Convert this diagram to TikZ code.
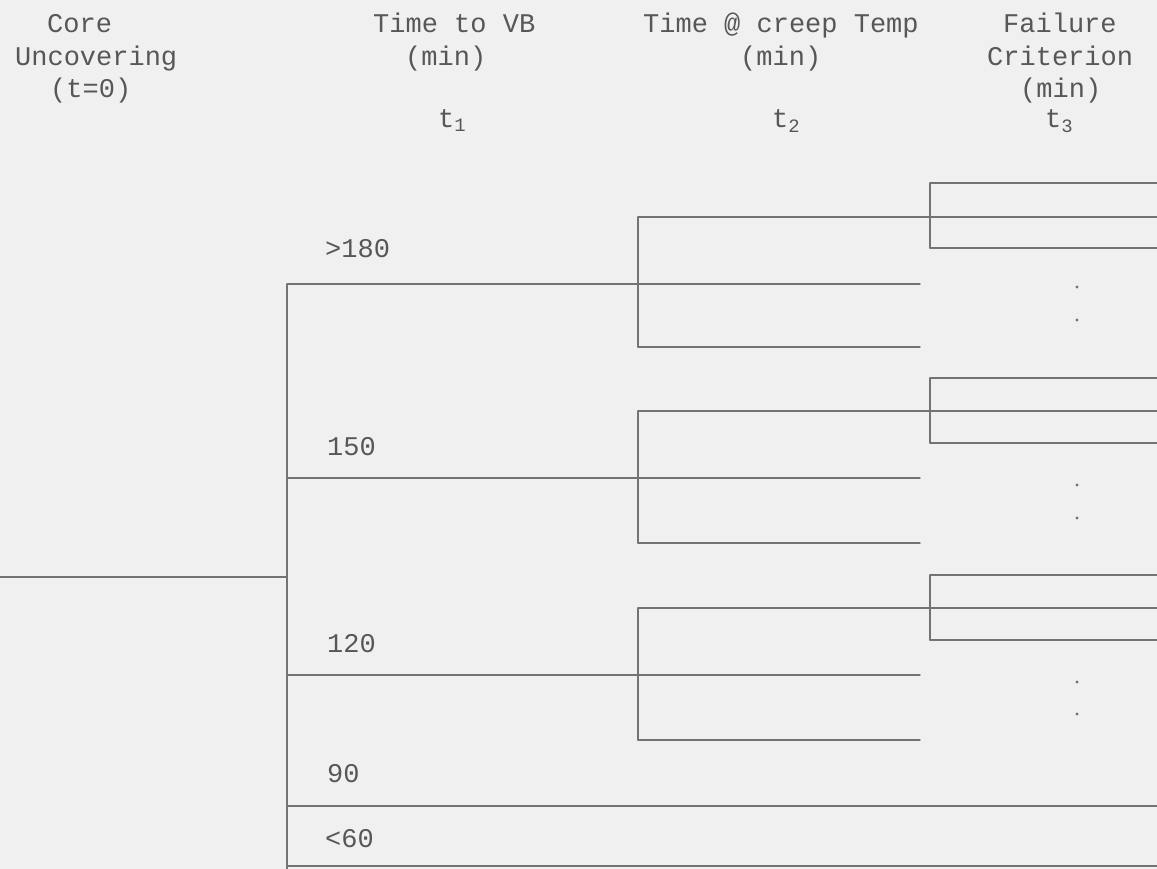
\documentclass[tikz,border=0pt]{standalone}
\usepackage{fontspec}
\setmonofont{Liberation Mono}
\usepackage{tkz-euclide}
\definecolor{LineClr}{rgb}{0.45,0.45,0.45}
\definecolor{TextClr}{rgb}{0.34,0.34,0.34}
\definecolor{PaperClr}{rgb}{0.94,0.94,0.94}

\begin{document}
\begin{tikzpicture}[x=1pt,y=-1pt,
  lbl/.style={anchor=base west,inner sep=0pt,text=TextClr,font=\ttfamily\fontsize{27}{31}\selectfont}]
\fill[PaperClr] (0,0) rectangle (1157,869);
\useasboundingbox (0,0) rectangle (1157,869);
\tkzSetUpLine[line width=1.4pt,color=LineClr]

\tkzDefPoints{0/577/S,287/577/R,287/284/T1,287/478/T2,287/675/T3,287/806/T4,287/866/T5,287/869/Z}
\tkzDefPoints{920/284/E1,920/478/E2,920/675/E3,1157/806/E4,1157/866/E5}

\tkzDefPoints{638/217/A1,638/347/C1,1157/217/A1e,920/347/C1e}
\tkzDefPoints{638/411/A2,638/543/C2,1157/411/A2e,920/543/C2e}
\tkzDefPoints{638/608/A3,638/740/C3,1157/608/A3e,920/740/C3e}

\tkzDefPoints{930/183/K1,930/248/L1,1157/183/K1e,1157/248/L1e}
\tkzDefPoints{930/378/K2,930/443/L2,1157/378/K2e,1157/443/L2e}
\tkzDefPoints{930/575/K3,930/640/L3,1157/575/K3e,1157/640/L3e}

\tkzDefPoints{1077/287/D1,1077/320/D2,1077/485/D3,1077/518/D4,1077/682/D5,1077/714/D6}

\tkzDrawSegments(S,R T1,Z T1,E1 T2,E2 T3,E3 T4,E4 T5,E5)
\tkzDrawSegments(A1,C1 A1,A1e C1,C1e A2,C2 A2,A2e C2,C2e A3,C3 A3,A3e C3,C3e)
\tkzDrawSegments(K1,L1 K1,K1e L1,L1e K2,L2 K2,K2e L2,L2e K3,L3 K3,K3e L3,L3e)

\foreach \d in {D1,D2,D3,D4,D5,D6} \fill[LineClr] (\d) circle (1.6pt);

\node[lbl] (c1) at (47,33) {Core};
\node[lbl] (c2) at (15,66) {Uncovering};
\node[lbl] (c3) at (50,98) {(t=0)};
\node[lbl] (v1) at (373,33) {Time to VB};
\node[lbl] (v2) at (405,66) {(min)};
\node[lbl] (v3) at (438,128) {t\textsubscript{1}};
\node[lbl] (p1) at (643,33) {Time @ creep Temp};
\node[lbl] (p2) at (740,66) {(min)};
\node[lbl] (p3) at (772,128) {t\textsubscript{2}};
\node[lbl] (f1) at (1003,33) {Failure};
\node[lbl] (f2) at (987,66) {Criterion};
\node[lbl] (f3) at (1020,98) {(min)};
\node[lbl] (f4) at (1045,128) {t\textsubscript{3}};

\node[lbl] (b1) at (325,258) {>180};
\node[lbl] (b2) at (327,455) {150};
\node[lbl] (b3) at (327,652) {120};
\node[lbl] (b4) at (327,782) {90};
\node[lbl] (b5) at (325,847) {<60};

\end{tikzpicture}
\end{document}
